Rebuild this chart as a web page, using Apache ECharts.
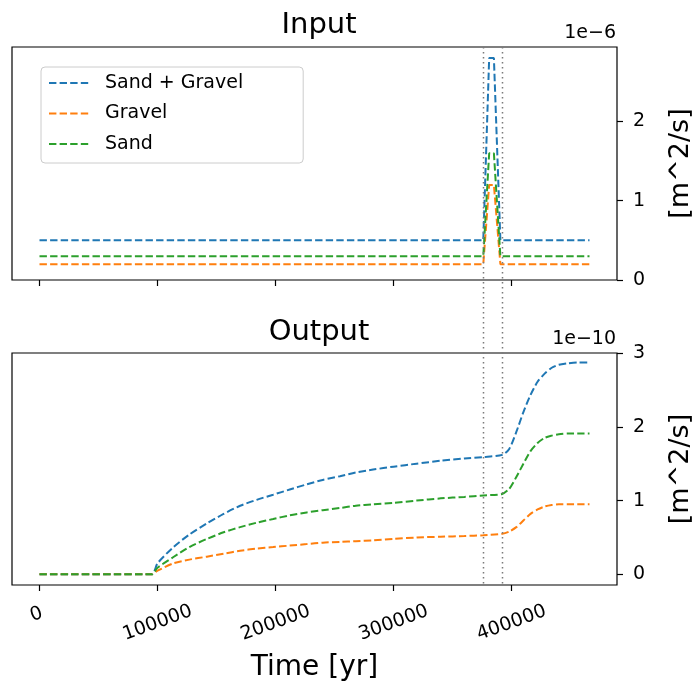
<!DOCTYPE html>
<html>
<head>
<meta charset="utf-8">
<script src="https://cdn.jsdelivr.net/npm/echarts@6/dist/echarts.min.js"></script>
<style>
html,body{margin:0;padding:0;background:#fff;}
#c{width:696px;height:681px;}
</style>
</head>
<body>
<div id="c"></div>
<script>
// ---- data ----
const seriesNames = ['Sand + Gravel', 'Gravel', 'Sand'];
const colors = ['#1f77b4', '#ff7f0e', '#2ca02c'];

// Input (units 1e-6 m^2/s)
const timeIn = [0, 376000, 381000, 385000, 390500, 466000];
const sandGravelIn = [0.5, 0.5, 2.8, 2.8, 0.5, 0.5];
const gravelIn = [0.2, 0.2, 1.2, 1.2, 0.2, 0.2];
const sandIn = [0.3, 0.3, 1.6, 1.6, 0.3, 0.3];

// Output (units 1e-10 m^2/s)
const timeOut = [0, 95000, 100000, 113500, 127000, 141800, 156000, 170000, 184000, 198000,
  212000, 226400, 240000, 254600, 268000, 282700, 300000, 319500, 340000, 360000,
  376000, 392000, 398000, 404000, 410000, 416000, 422000, 428000, 434000, 440000,
  448000, 456000, 466000];
const sandGravelOut = [0, 0, 0.15, 0.37, 0.54, 0.69, 0.82, 0.93, 1.01, 1.08,
  1.15, 1.22, 1.28, 1.33, 1.38, 1.42, 1.46, 1.50, 1.54, 1.57,
  1.59, 1.62, 1.70, 1.93, 2.20, 2.43, 2.61, 2.72, 2.80, 2.84,
  2.86, 2.87, 2.87];
const gravelOut = [0, 0, 0.05, 0.15, 0.20, 0.24, 0.28, 0.32, 0.35, 0.37,
  0.39, 0.41, 0.43, 0.44, 0.45, 0.46, 0.48, 0.50, 0.51, 0.52,
  0.53, 0.55, 0.58, 0.64, 0.73, 0.82, 0.88, 0.92, 0.94, 0.95,
  0.95, 0.95, 0.95];
const sandOut = [0, 0, 0.09, 0.235, 0.37, 0.48, 0.57, 0.64, 0.70, 0.75,
  0.80, 0.84, 0.87, 0.90, 0.93, 0.95, 0.97, 1.00, 1.03, 1.05,
  1.07, 1.09, 1.16, 1.32, 1.50, 1.67, 1.78, 1.85, 1.88, 1.90,
  1.91, 1.91, 1.91];

// pulse markers (vertical dotted lines)
const pulseBounds = [376000, 392000];

// tick values
const xTicks = [0, 100000, 200000, 300000, 400000];
const yTicksIn = [0, 1, 2];
const yTicksOut = [0, 1, 2, 3];

// ---- chart ----
const FONT = 'DejaVu Sans';
const pair = (t, v) => t.map((x, i) => [x, v[i]]);
const dash = [7.4, 3.2];

const chart = echarts.init(document.getElementById('c'), null, {renderer: 'canvas'});

function xAxisCfg(gi, showLabels) {
  return {
    type: 'value', gridIndex: gi, min: -23300, max: 489300, position: 'bottom',
    splitLine: {show: false},
    axisLine: {show: false, onZero: false},
    axisTick: {show: true, length: 6, customValues: xTicks, lineStyle: {color: '#000', width: 1.2}},
    axisLabel: {
      show: showLabels, customValues: xTicks, rotate: 20, margin: 38,
      align: 'center', verticalAlign: 'middle',
      fontFamily: FONT, fontSize: 19, color: '#000',
      formatter: v => v === 0 ? '{z|0}' : String(v),
      rich: {z: {fontFamily: FONT, fontSize: 19, color: '#000', padding: [0, 0, 18, 0]}}
    }
  };
}
function yAxisCfg(gi, min, max, ticks) {
  return {
    type: 'value', gridIndex: gi, position: 'right', min: min, max: max,
    splitLine: {show: false},
    axisLine: {show: false, onZero: false},
    axisTick: {show: true, length: 6, customValues: ticks, lineStyle: {color: '#000', width: 1.2}},
    axisLabel: {customValues: ticks, margin: 16, fontFamily: FONT, fontSize: 19, color: '#000'},
    name: '[m^2/s]', nameLocation: 'middle', nameRotate: 90, nameGap: 50,
    nameTextStyle: {fontFamily: FONT, fontSize: 27, color: '#000'}
  };
}
function lineSeries(name, color, t, v, xi, smooth) {
  return {
    type: 'line', name: name, xAxisIndex: xi, yAxisIndex: xi,
    data: pair(t, v), showSymbol: false, symbol: 'none', smooth: smooth,
    lineStyle: {color: color, width: 2, type: dash},
    itemStyle: {color: color},
    z: 3
  };
}

const gridBase = {left: 12, right: 79, show: true, borderColor: '#000', borderWidth: 1.2,
  backgroundColor: 'transparent', containLabel: false, outerBoundsMode: 'none'};

const option = {
  animation: false,
  backgroundColor: '#fff',
  color: colors,
  title: [
    {text: 'Input', left: 314, top: 6, textAlign: 'center',
      textStyle: {fontFamily: FONT, fontSize: 29, fontWeight: 'normal', color: '#000'}},
    {text: 'Output', left: 314, top: 313, textAlign: 'center',
      textStyle: {fontFamily: FONT, fontSize: 29, fontWeight: 'normal', color: '#000'}}
  ],
  legend: {
    show: true, orient: 'vertical', left: 41, top: 67,
    data: seriesNames,
    itemWidth: 40, itemHeight: 14, itemGap: 8.5,
    padding: [5, 60, 8, 7],
    itemStyle: {opacity: 0},
    backgroundColor: '#fff', borderColor: '#cccccc', borderWidth: 1, borderRadius: 4,
    textStyle: {fontFamily: FONT, fontSize: 19, color: '#000', lineHeight: 22, padding: [0, 0, 0, 11]}
  },
  grid: [
    Object.assign({top: 47, height: 233}, gridBase),
    Object.assign({top: 353, height: 232}, gridBase)
  ],
  xAxis: [
    xAxisCfg(0, false),
    Object.assign(xAxisCfg(1, true), {
      name: 'Time [yr]', nameLocation: 'middle', nameGap: 69,
      nameTextStyle: {fontFamily: FONT, fontSize: 28, color: '#000', verticalAlign: 'top'}
    })
  ],
  yAxis: [
    yAxisCfg(0, 0, 2.94, yTicksIn),
    yAxisCfg(1, -0.144, 3.0, yTicksOut)
  ],
  series: [
    lineSeries(seriesNames[0], colors[0], timeIn, sandGravelIn, 0, false),
    lineSeries(seriesNames[1], colors[1], timeIn, gravelIn, 0, false),
    lineSeries(seriesNames[2], colors[2], timeIn, sandIn, 0, false),
    lineSeries(seriesNames[0], colors[0], timeOut, sandGravelOut, 1, 0.25),
    lineSeries(seriesNames[1], colors[1], timeOut, gravelOut, 1, 0.25),
    lineSeries(seriesNames[2], colors[2], timeOut, sandOut, 1, 0.25)
  ]
};
chart.setOption(option);

// exponent labels and dotted pulse lines positioned via the library's scales
const topY = chart.convertToPixel({yAxisIndex: 0}, 2.94);
const botY = chart.convertToPixel({yAxisIndex: 1}, -0.144);
const topY2 = chart.convertToPixel({yAxisIndex: 1}, 3.0);
const rightX = chart.convertToPixel({xAxisIndex: 0}, 489300);
const graphics = pulseBounds.map(t => {
  const x = Math.round(chart.convertToPixel({xAxisIndex: 0}, t)) + 0.5;
  return {
    type: 'line', silent: true, z: 10,
    shape: {x1: x, y1: topY, x2: x, y2: botY},
    style: {stroke: '#7a7a7a', lineWidth: 1.5, lineDash: [1.5, 3.5]}
  };
});
graphics.push(
  {type: 'text', z: 10, x: rightX - 1, y: topY - 4,
    style: {text: '1e\u22126', fontFamily: FONT, fontSize: 19, fill: '#000', align: 'right', verticalAlign: 'bottom'}},
  {type: 'text', z: 10, x: rightX - 1, y: topY2 - 4,
    style: {text: '1e\u221210', fontFamily: FONT, fontSize: 19, fill: '#000', align: 'right', verticalAlign: 'bottom'}}
);
chart.setOption({graphic: graphics});
</script>
</body>
</html>
